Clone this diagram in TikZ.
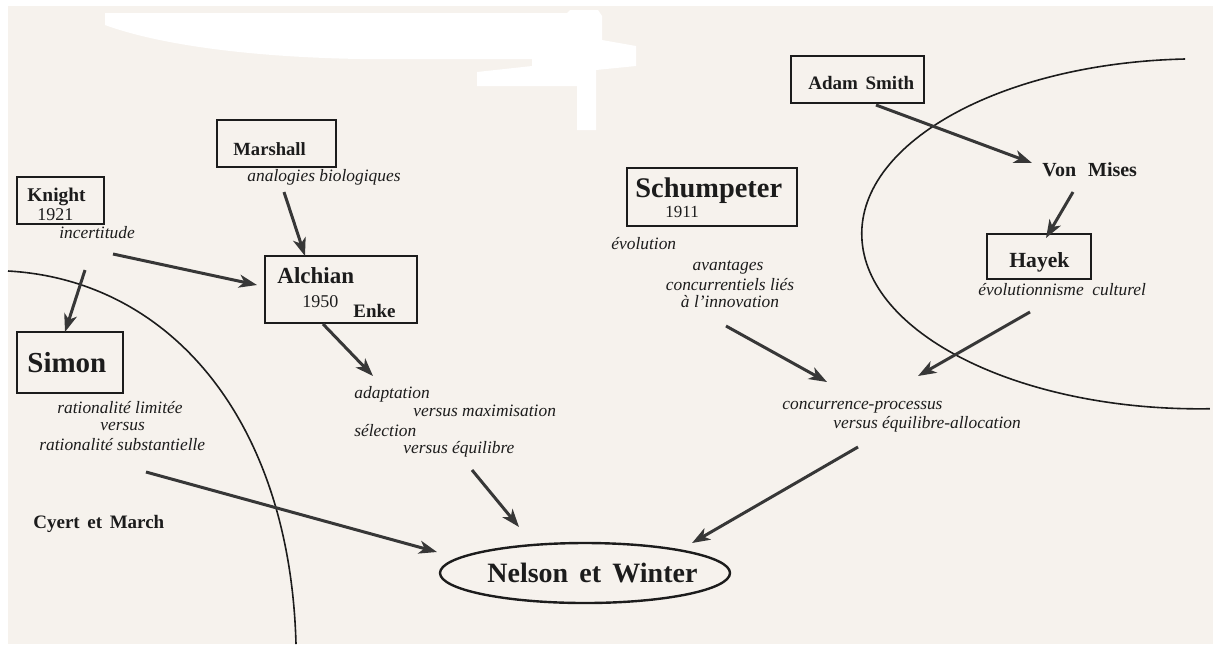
\documentclass[tikz,border=0pt]{standalone}
\usepackage{fontspec}
\setmainfont{Liberation Serif}
\usetikzlibrary{arrows.meta,shapes.geometric}
\definecolor{paper}{RGB}{246,242,237}
\definecolor{ink}{RGB}{28,28,28}
\definecolor{shaft}{RGB}{55,55,55}

\begin{document}
\begin{tikzpicture}[x=0.5pt,y=-0.5pt,
  box/.style={draw=ink, line width=1pt, inner sep=0pt},
  who/.style={font=\fontsize{9.5}{11}\selectfont\bfseries, text=ink, inner sep=0pt, anchor=base west},
  bigwho/.style={who, font=\fontsize{14.2}{16}\selectfont\bfseries},
  gloss/.style={font=\fontsize{8.7}{10}\selectfont\itshape, text=ink, inner sep=0pt, anchor=base west},
  year/.style={font=\fontsize{9}{10}\selectfont, text=ink, inner sep=0pt, anchor=base west},
  flow/.style={draw=shaft, line width=1.5pt, -{Stealth[length=9pt,width=6.5pt,inset=2.5pt]}},
  frontier/.style={draw=ink, line width=0.8pt}
]
\useasboundingbox (0,0) rectangle (1219,644);
\fill[white] (0,0) rectangle (1219,644);
\fill[paper] (8,6) rectangle (1213,644);

% masked strip across the top
\fill[white] (105,13) -- (567,13) -- (570,10) -- (598,10) -- (602,16) -- (602,40)
  -- (636,46) -- (636,66) -- (596,70) -- (596,130) -- (577,130) -- (577,86)
  -- (477,86) -- (477,72) -- (532,66) -- (532,59) -- (360,59)
  .. controls (250,57) and (160,45) .. (105,25) -- cycle;

% boundaries of the two traditions
\draw[frontier] (8,271) .. controls (170,280) and (290,420) .. (296,644);
\draw[frontier] (1185,59) arc[start angle=92.5, end angle=271.7, x radius=169pt, y radius=87.5pt];

% boxes
\node[box, minimum width=59.5pt, minimum height=23.5pt] (marshall) at (276.5,143.5) {};
\node[box, minimum width=43.5pt, minimum height=23.5pt] (knight) at (60.5,200.5) {};
\node[box, minimum width=76pt, minimum height=33.5pt] (alchian) at (341,289.5) {};
\node[box, minimum width=53pt, minimum height=30.5pt] (simon) at (70,362.5) {};
\node[box, minimum width=85pt, minimum height=29pt] (schumpeter) at (712,197) {};
\node[box, minimum width=66.5pt, minimum height=23.5pt] (smith) at (857.5,79.5) {};
\node[box, minimum width=52pt, minimum height=22.5pt] (hayek) at (1039,256.5) {};
\node[draw=ink, line width=1.2pt, ellipse, inner sep=0pt, minimum width=145pt, minimum height=30pt] (nelson) at (585,573) {};

% names
\node[who, font=\fontsize{9.3}{11}\selectfont\bfseries] (tMarshall) at (233,155) {Marshall};
\node[who, font=\fontsize{9.7}{11}\selectfont\bfseries] (tKnight) at (27,201) {Knight};
\node[year] (tKnightYear) at (37,220) {1921};
\node[who, font=\fontsize{11.5}{13}\selectfont\bfseries] (tAlchian) at (277,283) {Alchian};
\node[year] (tAlchianYear) at (302,307) {1950};
\node[who] (tEnke) at (353,317) {Enke};
\node[bigwho, font=\fontsize{14.5}{16}\selectfont\bfseries] (tSimon) at (27,372) {Simon};
\node[who] (tCyert) at (33,528) {Cyert\hspace{0.4em}et\hspace{0.4em}March};
\node[bigwho] (tSchumpeter) at (635,197) {Schumpeter};
\node[year, font=\fontsize{8.5}{10}\selectfont] (tSchumpeterYear) at (665,217) {1911};
\node[who] (tSmith) at (808,89) {Adam\hspace{0.4em}Smith};
\node[who, font=\fontsize{10}{11}\selectfont\bfseries] (tMises) at (1042,176) {Von\hspace{0.6em}Mises};
\node[who, font=\fontsize{10.8}{12}\selectfont\bfseries] (tHayek) at (1009,267) {Hayek};
\node[bigwho, font=\fontsize{14}{16}\selectfont\bfseries] (tNelson) at (487,582) {Nelson\hspace{0.4em}et\hspace{0.4em}Winter};

% themes
\node[gloss] (gBio) at (247,181) {analogies biologiques};
\node[gloss] (gIncert) at (59,238) {incertitude};
\node[gloss] (gRat1) at (57,413) {rationalité limitée};
\node[gloss] (gRat2) at (100,430) {versus};
\node[gloss] (gRat3) at (39,450) {rationalité substantielle};
\node[gloss] (gAd1) at (354,398) {adaptation};
\node[gloss] (gAd2) at (413,416) {versus maximisation};
\node[gloss] (gAd3) at (354,436) {sélection};
\node[gloss] (gAd4) at (403,453) {versus équilibre};
\node[gloss] (gEvol) at (611,249) {évolution};
\node[gloss, anchor=base] (gAv1) at (728,270) {avantages};
\node[gloss, anchor=base] (gAv2) at (730,290) {concurrentiels liés};
\node[gloss, anchor=base] (gAv3) at (730,307) {à l'innovation};
\node[gloss] (gHayek) at (978,295) {évolutionnisme\hspace{0.5em}culturel};
\node[gloss] (gConc1) at (782,409) {concurrence-processus};
\node[gloss] (gConc2) at (833,428) {versus équilibre-allocation};

% arrow ends
\coordinate (bioOut) at (284,192);     \coordinate (alchianTop) at (305,256);
\coordinate (incertOut) at (113,254);  \coordinate (alchianLeft) at (257,285);
\coordinate (knightOut) at (85,270);   \coordinate (simonTop) at (65,332);
\coordinate (alchianOut) at (323,324); \coordinate (adaptIn) at (373,376);
\coordinate (adaptOut) at (472,470);   \coordinate (nelsonTop) at (519,527);
\coordinate (simonOut) at (146,472);   \coordinate (nelsonLeft) at (437,552);
\coordinate (concOut) at (858,447);    \coordinate (nelsonRight) at (692,543);
\coordinate (smithOut) at (876,105);   \coordinate (misesIn) at (1032,163);
\coordinate (misesOut) at (1073,192);  \coordinate (hayekTop) at (1046,238);
\coordinate (hayekOut) at (1030,312);  \coordinate (concInR) at (918,376);
\coordinate (avantOut) at (726,326);   \coordinate (concInL) at (827,382);

\draw[flow] (bioOut) -- (alchianTop);
\draw[flow] (incertOut) -- (alchianLeft);
\draw[flow] (knightOut) -- (simonTop);
\draw[flow] (alchianOut) -- (adaptIn);
\draw[flow] (adaptOut) -- (nelsonTop);
\draw[flow] (simonOut) -- (nelsonLeft);
\draw[flow] (concOut) -- (nelsonRight);
\draw[flow] (smithOut) -- (misesIn);
\draw[flow] (misesOut) -- (hayekTop);
\draw[flow] (hayekOut) -- (concInR);
\draw[flow] (avantOut) -- (concInL);
\end{tikzpicture}
\end{document}
